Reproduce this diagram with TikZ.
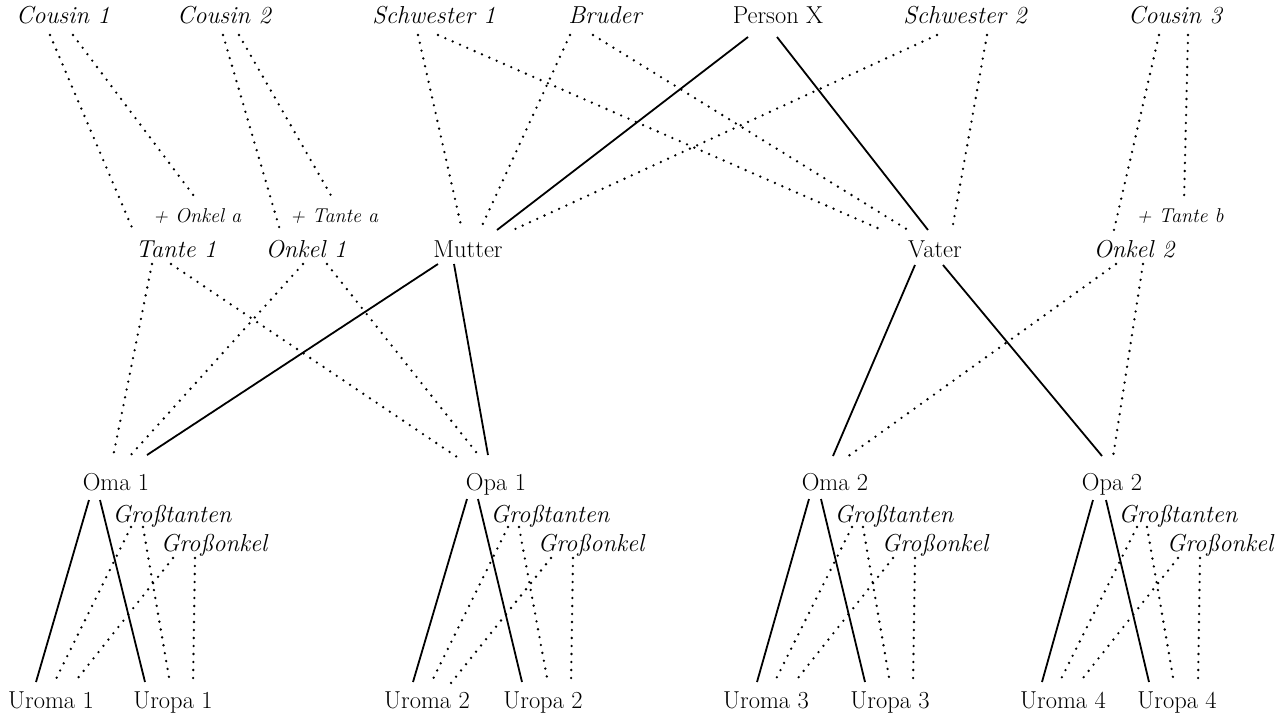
\documentclass[tikz,border=0pt]{standalone}
\usetikzlibrary{calc}
\tikzset{
  person/.style={inner sep=0pt, anchor=base, font=\fontsize{24.5}{29}\selectfont},
  relative/.style={person, font=\fontsize{24.5}{29}\selectfont\itshape},
  partner/.style={inner sep=0pt, anchor=base, font=\fontsize{20}{24}\selectfont\itshape},
  blood/.style={line width=1.8pt},
  kinship/.style={line width=2.6pt, line cap=round, dash pattern=on 0pt off 8pt},
}
% connector between two named nodes, each end shifted from the node's base point
\newcommand{\famlink}[7]{\draw[#1] ([shift={(#3,#4)}]#2.base) -- ([shift={(#6,#7)}]#5.base);}
\begin{document}
\begin{tikzpicture}[x=1pt, y=-1pt]
\useasboundingbox (0,0) rectangle (1278,716);

% generation of Person X
\node[relative] (cousin1) at (63,23)   {Cousin 1};
\node[relative] (cousin2) at (224,23)  {Cousin 2};
\node[relative] (schw1)   at (434,23)  {Schwester 1};
\node[relative] (bruder)  at (605,23)  {Bruder};
\node[person]   (personx) at (778,23)  {Person X};
\node[relative] (schw2)   at (965,23)  {Schwester 2};
\node[relative] (cousin3) at (1175,23) {Cousin 3};

% in-laws
\node[partner] (onkela) at (197,222)  {+ Onkel a};
\node[partner] (tantea) at (334,222)  {+ Tante a};
\node[partner] (tanteb) at (1180,222) {+ Tante b};

% parents' generation
\node[relative] (tante1) at (176,257)  {Tante 1};
\node[relative] (onkel1) at (306,257)  {Onkel 1};
\node[person]   (mutter) at (468,257)  {Mutter};
\node[person]   (vater)  at (935,257)  {Vater};
\node[relative] (onkel2) at (1134,257) {Onkel 2};

% grandparents
\node[person] (oma1) at (116,490)  {Oma 1};
\node[person] (opa1) at (496,490)  {Opa 1};
\node[person] (oma2) at (835,490)  {Oma 2};
\node[person] (opa2) at (1112,490) {Opa 2};

% great-aunts and great-uncles
\node[relative] (gt1) at (172,522)  {Großtanten};
\node[relative] (go1) at (214,551)  {Großonkel};
\node[relative] (gt2) at (550,522)  {Großtanten};
\node[relative] (go2) at (591,551)  {Großonkel};
\node[relative] (gt3) at (894,522)  {Großtanten};
\node[relative] (go3) at (935,551)  {Großonkel};
\node[relative] (gt4) at (1178,522) {Großtanten};
\node[relative] (go4) at (1220,551) {Großonkel};

% great-grandparents
\node[person] (uroma1) at (51,708)   {Uroma 1};
\node[person] (uropa1) at (173,708)  {Uropa 1};
\node[person] (uroma2) at (427,708)  {Uroma 2};
\node[person] (uropa2) at (543,708)  {Uropa 2};
\node[person] (uroma3) at (766,708)  {Uroma 3};
\node[person] (uropa3) at (890,708)  {Uropa 3};
\node[person] (uroma4) at (1063,708) {Uroma 4};
\node[person] (uropa4) at (1177,708) {Uropa 4};

% direct line of descent
\famlink{blood}{personx}{-30}{14}{mutter}{29}{-27}
\famlink{blood}{personx}{-1}{14}{vater}{-7}{-27}
\famlink{blood}{mutter}{-30}{7}{oma1}{31}{-35}
\famlink{blood}{mutter}{-14}{7}{opa1}{-8}{-35}
\famlink{blood}{vater}{-20}{8}{oma2}{-2}{-34}
\famlink{blood}{vater}{8}{8}{opa2}{-10}{-34}
\famlink{blood}{oma1}{-27}{10}{uroma1}{-15}{-26}
\famlink{blood}{oma1}{-16}{10}{uropa1}{-28}{-26}
\famlink{blood}{opa1}{-29}{9}{uroma2}{-14}{-26}
\famlink{blood}{opa1}{-18}{9}{uropa2}{-21}{-26}
\famlink{blood}{oma2}{-26}{9}{uroma3}{-9}{-26}
\famlink{blood}{oma2}{-14}{9}{uropa3}{-25}{-26}
\famlink{blood}{opa2}{-19}{10}{uroma4}{-21}{-26}
\famlink{blood}{opa2}{-6}{10}{uropa4}{-28}{-26}

% collateral relatives
\famlink{kinship}{cousin1}{-13}{12}{tante1}{-43}{-27}
\famlink{kinship}{cousin1}{10}{12}{onkela}{0}{-22}
\famlink{kinship}{cousin2}{-1}{12}{onkel1}{-26}{-27}
\famlink{kinship}{cousin2}{15}{12}{tantea}{-1}{-23}
\famlink{kinship}{schw1}{-16}{12}{mutter}{-6}{-27}
\famlink{kinship}{schw1}{4}{12}{vater}{-53}{-27}
\famlink{kinship}{bruder}{-35}{12}{mutter}{12}{-27}
\famlink{kinship}{bruder}{-12}{12}{vater}{-27}{-27}
\famlink{kinship}{schw2}{-28}{12}{mutter}{45}{-27}
\famlink{kinship}{schw2}{22}{12}{vater}{17}{-27}
\famlink{kinship}{cousin3}{-16}{12}{onkel2}{-20}{-27}
\famlink{kinship}{cousin3}{13}{12}{tanteb}{4}{-20}

\famlink{kinship}{tante1}{-24}{7}{oma1}{-3}{-33}
\famlink{kinship}{tante1}{-5}{7}{opa1}{-39}{-33}
\famlink{kinship}{onkel1}{-3}{7}{oma1}{13}{-33}
\famlink{kinship}{onkel1}{21}{7}{opa1}{-16}{-33}
\famlink{kinship}{onkel2}{-18}{7}{oma2}{12}{-33}
\famlink{kinship}{onkel2}{9}{7}{opa2}{1}{-33}

\famlink{kinship}{gt1}{-41}{5}{uroma1}{3}{-25}
\famlink{kinship}{gt1}{-29}{5}{uropa1}{-3}{-25}
\famlink{kinship}{go1}{-41}{7}{uroma1}{23}{-25}
\famlink{kinship}{go1}{-19}{7}{uropa1}{20}{-25}

\famlink{kinship}{gt2}{-42}{5}{uroma2}{4}{-25}
\famlink{kinship}{gt2}{-31}{5}{uropa2}{5}{-25}
\famlink{kinship}{go2}{-40}{7}{uroma2}{24}{-25}
\famlink{kinship}{go2}{-18}{7}{uropa2}{28}{-25}

\famlink{kinship}{gt3}{-42}{5}{uroma3}{8}{-25}
\famlink{kinship}{gt3}{-31}{5}{uropa3}{0}{-25}
\famlink{kinship}{go3}{-42}{7}{uroma3}{28}{-25}
\famlink{kinship}{go3}{-20}{7}{uropa3}{23}{-25}

\famlink{kinship}{gt4}{-41}{5}{uroma4}{-4}{-25}
\famlink{kinship}{gt4}{-31}{5}{uropa4}{-3}{-25}
\famlink{kinship}{go4}{-42}{7}{uroma4}{16}{-25}
\famlink{kinship}{go4}{-20}{7}{uropa4}{21}{-25}
\end{tikzpicture}
\end{document}
